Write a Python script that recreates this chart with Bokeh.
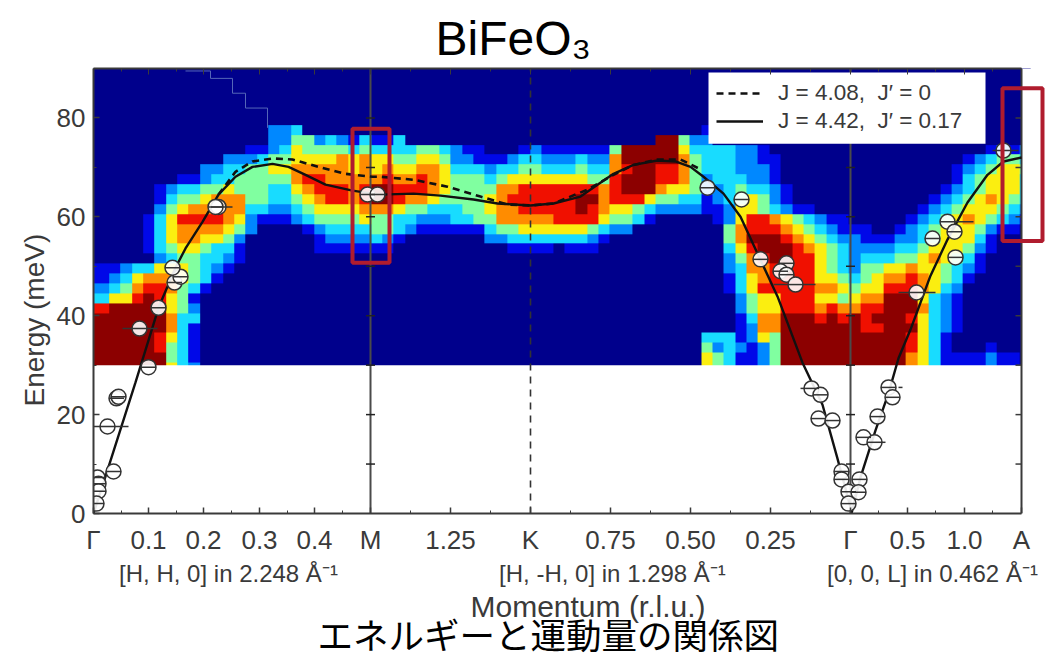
from bokeh.plotting import figure
from bokeh.embed import file_html
from bokeh.resources import INLINE
from bokeh.models import BoxAnnotation, Legend, LegendItem, FixedTicker, Range1d, LinearAxis, Title
import numpy as np

# ---- heat map: one string per energy row (top to bottom), one digit per momentum column
HEAT_ROWS = [
 "0000000000 0000000000 0000000000 0000000000 0000000000 0000000000 0000000000 0000000000 00",
 "0000000000 0000000000 0000000000 0000000000 0000000000 0000000000 0000000000 0000000000 00",
 "0000000000 0000000000 0000000000 0000000000 0000000000 0000000000 0000000000 0000000000 00",
 "0000000000 0000000000 0000000000 0000000000 0000000000 0000000000 0000000000 0000000000 00",
 "0000000000 0000000000 0000000000 0000000000 0000000000 0000000000 0000000000 0000000000 00",
 "0000000000 0000000000 0000000000 0000000000 0000000000 0000000000 0000000000 0000000000 00",
 "0000000000 0000022300 0000000000 0000000000 0000000000 0001000000 0000000000 0000000000 00",
 "0000000000 0000022442 3213113000 0000000000 0000000008 8422000000 0000000000 0000000000 00",
 "0000000000 0001123544 4434333344 3211000121 1111148888 8533332210 0000000000 0000000012 12",
 "0000000000 0222344555 5656554455 4221112332 2232268888 8643332211 0000000000 0000001234 43",
 "0000000002 2334455666 6656565566 5333233443 3343367887 7643332221 0000000000 0000012345 54",
 "0000000112 3344444677 6666676676 5444345555 5554478887 7642333221 0000000000 0000013455 53",
 "0000012334 4544433567 7767887776 5444466777 7777678886 5542234332 1000000000 0000123455 53",
 "0000013445 6664433456 7767887665 4444567777 7788677754 4331234542 1000000000 0001234565 43",
 "0000024566 7663322345 5556665443 3344566777 7787655432 2221125543 2110000000 0012345554 32",
 "0000135777 7652111234 4445443322 2334466666 7777544310 0000125776 5432110000 0123456543 21",
 "0000135666 6542000012 3333443211 1111344555 5554322000 0000046777 6543211100 1234555421 10",
 "0000135665 5420000001 2222321000 0000223333 3332100000 0000046888 7654322111 2234555310 00",
 "0000134554 3310000001 1111110000 0000001111 0111000000 0000035788 8765432222 3345554210 00",
 "0000023443 3210000000 0000000000 0000000000 0000000000 0000024678 8775432333 4456543100 00",
 "1123355543 2100000000 0000000000 0000000000 0000000000 0000023667 8775432445 5655432100 00",
 "1235666543 1000000000 0000000000 0000000000 0000000000 0000013567 7775543456 6765431000 00",
 "2346776431 0000000000 0000000000 0000000000 0000000000 0000013577 7776654557 7765320000 00",
 "3557875410 0000000000 0000000000 0000000000 0000000000 0000002455 7775545668 8853210000 00",
 "7888885420 0000000000 0000000000 0000000000 0000000000 0000002455 7776766778 8863210000 00",
 "8888886330 0000000000 0000000000 0000000000 0000000000 0000001366 8887878788 8753210000 00",
 "8888886310 0000000000 0000000000 0000000000 0000000000 0000001266 8888888778 8853210000 00",
 "8888875310 0000000000 0000000000 0000000000 0000000000 0003331254 8888888888 8753100000 00",
 "8888874310 0000000000 0000000000 0000000000 0000000000 0004232124 8888888888 8753100010 00",
 "8888884310 0000000000 0000000000 0000000000 0000000000 0005431124 8888888888 8653111121 10",
 "8888885320 0000000000 0000000000 0000000000 0000000000 0005431124 8888888888 8653111121 10",
]
HEAT_COLORS = [(0, 0, 140), (0, 8, 232), (0, 136, 255), (24, 220, 255), (128, 255, 160),
               (251, 238, 16), (255, 140, 0), (240, 16, 0), (140, 0, 0)]

# ---- measured points (path distance along momentum axis, energy in meV)
PT_X = [55, 23, 25, 14, 20, 4, 5, 5, 3, 46, 65, 81, 87, 79, 125, 122, 274, 284,
        614, 648, 667, 693, 687, 693, 702, 823, 839, 854, 861, 862, 910,
        718, 727, 725, 739, 748, 748, 755, 755, 766, 765, 770, 781, 784, 795, 799]
PT_Y = [29.6, 23.3, 23.6, 17.6, 8.5, 7.3, 6.0, 4.5, 2.0, 37.4, 41.6, 46.7, 47.9, 49.7, 62.0, 62.0, 64.5, 64.5,
        65.9, 63.5, 51.4, 50.6, 49.0, 48.3, 46.3, 44.7, 55.6, 59.0, 57.0, 51.8, 73.4,
        25.3, 24.0, 19.2, 18.8, 8.5, 6.9, 4.4, 2.0, 6.9, 4.3, 15.4, 14.4, 19.6, 25.5, 23.5]
ERR_X0 = [0, 29, 115, 680, 805, 899, 707, 782, 805, 854]
ERR_X1 = [35, 64, 139, 722, 842, 925, 729, 792, 809, 880]
ERR_Y = [17.6, 37.4, 62.0, 46.3, 44.7, 73.4, 25.3, 14.4, 25.5, 59.0]

# ---- model curves
SOLID_X = [0, 12, 42, 55, 65, 82, 92, 109, 125, 142, 159, 179, 195, 212, 232, 259, 279, 287, 320, 347, 380, 404, 437, 460,
           487, 504, 520, 540, 564, 582, 597, 610, 630, 647, 664, 684, 709, 729, 744, 757, 758, 767, 782, 795, 805, 817, 837, 854, 874, 894, 910, 928]
SOLID_Y = [0, 7.5, 26.5, 35.0, 41.6, 49.7, 53.6, 59.0, 64.5, 68.1, 70.1, 70.7, 70.1, 68.5, 66.5, 65.3, 64.7, 64.5, 64.7, 64.3, 63.5, 62.7, 62.3, 62.7,
           64.1, 66.5, 68.7, 70.5, 71.4, 71.2, 70.1, 68.1, 64.7, 60.0, 52.6, 43.9, 30.5, 22.0, 11.1, 1.2, 0, 7.3, 16.8, 24.3, 31.4, 37.2, 48.1, 55.4, 62.9, 68.5, 71.2, 72.0]
DASH_X = [125, 142, 159, 179, 199, 225, 252, 279, 287, 320, 354, 387, 414, 437, 460, 494, 520, 540, 564, 587, 607]
DASH_Y = [64.5, 69.1, 71.2, 71.8, 71.6, 70.1, 68.7, 68.1, 68.1, 67.5, 66.1, 64.1, 62.5, 62.3, 62.7, 65.5, 68.5, 70.5, 71.6, 71.6, 69.6]
STAIR_X = [92, 117, 117, 139, 139, 152, 152, 174, 174]
STAIR_Y = [89.5, 89.5, 88, 88, 85, 85, 82, 82, 78]

# ---- axis
X_TICKS = [0, 55, 110, 166, 221, 277, 357, 437, 517, 597, 677, 757, 814, 871, 928]
X_LABELS = ["Γ", "0.1", "0.2", "0.3", "0.4", "M", "1.25", "K", "0.75", "0.50", "0.25", "Γ", "0.5", "1.0", "A"]
X_MINOR = [28, 83, 138, 194, 249, 317, 397, 477, 557, 637, 717, 785, 842, 899]
Y_TICKS = [0, 20, 40, 60, 80]
Y_MINOR = [10, 30, 50, 70]
SYM_X = [277, 757]
SYM_Y = [10, 20, 30, 40, 50, 60, 70, 80]
DIR_LABELS = ["[H, H, 0] in 2.248 Å⁻¹", "[H, -H, 0] in 1.298 Å⁻¹", "[0, 0, L] in 0.462 Å⁻¹"]
DIR_X = [135, 519, 839]
BOXES = [(259, 296, 50.7, 77.8), (909, 949, 55.1, 86)]
LEGEND_BOX = (615, 892, 74.8, 89.2)

X_EDGE, X_MAX, Y_MAX = 928.0, 955.0, 90.0
COL_W, COL_0 = 11.38, 4.0
ROW_H, ROW_0 = 2.0, 90.5
RED = "#b01c2e"
INK = "#3a3a3a"
FONT = "Liberation Sans"

rows = [r.replace(" ", "") for r in HEAT_ROWS]
levels = np.array([[int(ch) for ch in r] for r in rows])
levels = np.hstack([levels[:, :1], levels])          # first column runs on to the frame's edge
n_r, n_c = levels.shape
rgba = np.zeros((n_r, n_c), dtype=np.uint32)
view = rgba.view(dtype=np.uint8).reshape((n_r, n_c, 4))
for i in range(n_r):
    for j in range(n_c):
        view[n_r - 1 - i, j, :3] = HEAT_COLORS[levels[i, j]]
        view[n_r - 1 - i, j, 3] = 255

p = figure(width=1048, height=657, output_backend="svg", toolbar_location=None,
           x_range=Range1d(0, X_MAX), y_range=Range1d(0, Y_MAX),
           min_border_left=93, min_border_right=0, min_border_top=68, min_border_bottom=144)
p.grid.visible = False
p.outline_line_color = None

p.image_rgba(image=[rgba], x=COL_0 - COL_W, y=ROW_0 - ROW_H * n_r, dw=COL_W * n_c, dh=ROW_H * n_r)
p.quad(left=[0], right=[X_MAX], bottom=[0], top=[30], fill_color="white", line_color=None)
p.quad(left=[X_EDGE], right=[X_MAX], bottom=[0], top=[Y_MAX], fill_color="white", line_color=None)

p.line(STAIR_X, STAIR_Y, line_color="#5566b8", line_width=1)
p.segment([X_EDGE], [0], [X_EDGE], [Y_MAX], line_color=INK, line_width=2)
p.scatter([X_EDGE - 3] * len(SYM_Y), SYM_Y, marker="dash", size=6, line_color=INK, line_width=1.5)
for sx in SYM_X:
    p.segment([sx], [0], [sx], [Y_MAX], line_color="#4a4a4a", line_width=2)
    p.scatter([sx] * len(SYM_Y), SYM_Y, marker="dash", size=9, line_color="#222222", line_width=1.5)
p.segment([437], [0], [437], [Y_MAX], line_color="#333333", line_width=1.6, line_dash="7 6")

r_dash = p.line(DASH_X, DASH_Y, line_color="#111111", line_width=2.6, line_dash="7 5")
r_solid = p.line(SOLID_X, SOLID_Y, line_color="#111111", line_width=2.4)
p.segment(ERR_X0, ERR_Y, ERR_X1, ERR_Y, line_color="#333333", line_width=1.5)
p.scatter(PT_X, PT_Y, marker="circle", size=15, fill_color="white", fill_alpha=0.9, line_color="#333333", line_width=1.5)
p.scatter(PT_X, PT_Y, marker="dash", size=15, line_color="#333333", line_width=1.5)
p.quad(left=[LEGEND_BOX[0]], right=[LEGEND_BOX[1]], bottom=[LEGEND_BOX[2]], top=[LEGEND_BOX[3]],
       fill_color="white", line_color=None)

legend = Legend(items=[LegendItem(label="J = 4.08,  J′ = 0", renderers=[r_dash]),
                       LegendItem(label="J = 4.42,  J′ = 0.17", renderers=[r_solid])],
                location=(623, 378), orientation="vertical", background_fill_color="white", background_fill_alpha=1,
                border_line_color=None, label_text_font=FONT, label_text_font_size="22.5px", label_text_color=INK,
                glyph_width=47, glyph_height=28, padding=15, spacing=0, margin=0, label_standoff=15)
p.add_layout(legend, "center")

for l, r, b, t in BOXES:
    p.add_layout(BoxAnnotation(left=l, right=r, bottom=b, top=t, fill_alpha=0, line_color=RED, line_alpha=1,
                               line_width=4, level="overlay"))

xa = p.xaxis[0]
xa.ticker = FixedTicker(ticks=X_TICKS, minor_ticks=X_MINOR)
xa.major_label_overrides = dict(zip(X_TICKS, X_LABELS))
xa.bounds = (0, X_EDGE)
ya = p.yaxis[0]
ya.ticker = FixedTicker(ticks=Y_TICKS, minor_ticks=Y_MINOR)
for a in (xa, ya):
    a.major_label_text_font = FONT
    a.major_label_text_font_size = "26px"
    a.major_label_text_color = INK
    a.major_tick_in, a.major_tick_out = 6, 0
    a.minor_tick_in, a.minor_tick_out = 3, 0
    a.axis_line_color = INK
    a.axis_line_width = 2
    a.major_tick_line_color = INK
    a.minor_tick_line_color = INK
    a.major_tick_line_width = 1.5
    a.major_label_standoff = 8
xa.major_label_standoff = 11

p.add_layout(Title(text="Energy (meV)", text_font=FONT, text_font_size="28px", text_font_style="normal",
                   text_color=INK, align="left", offset=107, standoff=8), "left")

top_axis = LinearAxis(ticker=FixedTicker(ticks=X_TICKS, minor_ticks=X_MINOR), bounds=(0, X_EDGE),
                      major_label_text_font_size="1px", major_label_text_color=None,
                      major_tick_in=6, major_tick_out=0, minor_tick_in=3, minor_tick_out=0,
                      major_tick_line_color=INK, minor_tick_line_color=INK, axis_line_color=INK, axis_line_width=2,
                      major_label_standoff=0)
p.add_layout(top_axis, "above")

dir_axis = LinearAxis(ticker=FixedTicker(ticks=DIR_X, minor_ticks=[]), major_label_overrides=dict(zip(DIR_X, DIR_LABELS)),
                      major_label_text_font=FONT, major_label_text_font_size="24px", major_label_text_color=INK,
                      major_tick_in=0, major_tick_out=0, minor_tick_in=0, minor_tick_out=0,
                      major_tick_line_color=None, minor_tick_line_color=None, axis_line_color=None,
                      major_label_standoff=2)
p.add_layout(dir_axis, "below")
p.add_layout(Title(text="Momentum (r.l.u.)", text_font=FONT, text_font_size="30px", text_font_style="normal",
                   text_color=INK, align="left", offset=377, standoff=-4), "below")
p.add_layout(Title(text="エネルギーと運動量の関係図", text_font=FONT + ", Noto Sans CJK JP", text_font_size="35.5px",
                   text_font_style="normal", text_color="black", align="left", offset=224, standoff=-12), "below")

p.title.text = "BiFeO₃"
p.title.text_font = FONT
p.title.text_font_size = "48px"
p.title.text_font_style = "normal"
p.title.text_color = "black"
p.title.align = "left"
p.title.offset = 342
p.title.standoff = 7

open("out.html", "w").write(file_html(p, INLINE))
